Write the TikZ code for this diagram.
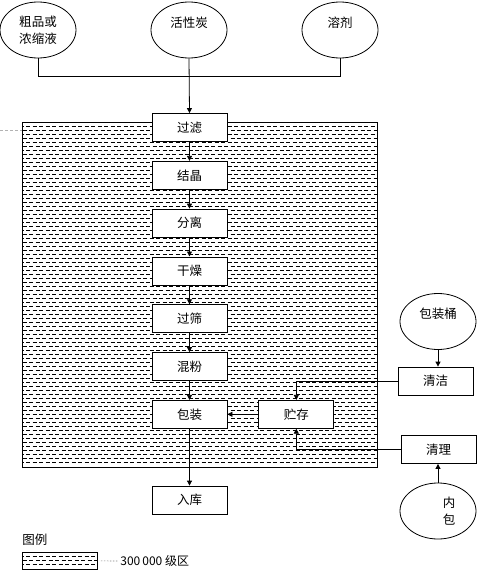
\documentclass[tikz,border=0pt]{standalone}
\usepackage{fontspec}
\setmainfont{Noto Sans CJK SC}
\usetikzlibrary{arrows.meta,positioning,shapes}

\begin{document}
\begin{tikzpicture}[x=1pt,y=-1pt,node distance=19pt,line width=0.8pt,
    stepbox/.style={draw, rectangle, fill=white, minimum width=75pt, minimum height=28pt, font=\fontsize{12.5}{14}\selectfont},
    source/.style={draw, ellipse, fill=white, minimum width=76pt, minimum height=56pt, inner sep=0pt},
    srctext/.style={font=\fontsize{12.5}{17}\selectfont, align=center},
    flow/.style={-{Triangle[length=5pt,width=5pt]}},
    hatch/.style={line width=0.9pt, dash pattern=on 4pt off 2.5pt}]
    \useasboundingbox (0,0) rectangle (487,575);

    % 300 000 zone
    \draw[line width=0.8pt] (22,122) rectangle (377,467);
    \foreach \y [count=\i] in {126,130,...,464}{
        \pgfmathsetmacro{\phase}{mod(\i,2)*3}
        \draw[hatch, dash phase=\phase pt] (22.5,\y) -- (376.5,\y);
    }
    \draw[gray!60, line width=0.5pt, densely dashed] (0,130) -- (22,130);

    % Raw materials
    \node[source] (crude) at (38,30) {};
    \node[srctext] (crudetext) at (crude.center) {粗品或\\浓缩液};
    \node[source] (carbon) at (189,30) {};
    \node[srctext] (carbontext) at ([yshift=7pt]carbon.center) {活性炭};
    \node[source] (solvent) at (340,30) {};
    \node[srctext] (solventtext) at ([yshift=7pt]solvent.center) {溶剂};
    \coordinate (merge) at (189,76);

    % Main process
    \node[stepbox] (filter) at (189.5,127.5) {过滤};
    \node[stepbox, below=of filter] (cryst) {结晶};
    \node[stepbox, below=of cryst] (separate) {分离};
    \node[stepbox, below=of separate] (dry) {干燥};
    \node[stepbox, below=of dry] (sieve) {过筛};
    \node[stepbox, below=of sieve] (mix) {混粉};
    \node[stepbox, below=of mix] (pack) {包装};
    \node[stepbox, right=31pt of pack] (store) {贮存};
    \node[stepbox] (warehouse) at (189.5,500) {入库};

    % Packaging drums
    \node[source] (drum) at (438,321.5) {};
    \node[srctext] (drumtext) at ([yshift=8pt]drum.center) {包装桶};
    \node[stepbox] (clean) at (435.5,381) {清洁};
    \node[stepbox] (tidy) at (438.5,449.5) {清理};
    \node[source] (inner) at (438,511) {};
    \node[srctext] (innertext) at ([xshift=11pt]inner.center) {内\\包};

    % Arrows
    \draw (crude.south) |- (merge);
    \draw (solvent.south) |- (merge);
    \draw[flow] (carbon.south) -- (filter.north);
    \draw[flow] (filter) -- (cryst);
    \draw[flow] (cryst) -- (separate);
    \draw[flow] (separate) -- (dry);
    \draw[flow] (dry) -- (sieve);
    \draw[flow] (sieve) -- (mix);
    \draw[flow] (mix) -- (pack);
    \draw[flow] (pack) -- (warehouse);
    \draw[flow] (store) -- (pack);
    \draw[flow] (drum.south) -- (drum.south |- clean.north);
    \draw[flow] (clean.west) -| (store.north);
    \draw[flow] (inner.north) -- (inner.north |- tidy.south);
    \draw[flow] (tidy.west) -| (store.south);

    % Legend
    \node[anchor=west, font=\fontsize{12.5}{14}\selectfont, inner sep=0pt] (legendtitle) at (22,540) {图例};
    \node[draw, rectangle, minimum width=75pt, minimum height=17pt, inner sep=0pt, anchor=north west] (legendbox) at (22,552) {};
    \foreach \y [count=\i] in {556,560,564}{
        \pgfmathsetmacro{\phase}{mod(\i,2)*3}
        \draw[hatch, dash phase=\phase pt] (22.5,\y) -- (96.5,\y);
    }
    \node[anchor=west, font=\fontsize{12}{14}\selectfont, inner sep=0pt] (legendtext) at (120,561) {300\,000 级区};
    \draw[gray, line width=0.6pt, dash pattern=on 1.5pt off 1.5pt] ([xshift=3pt]legendbox.east) -- ([xshift=-2pt]legendtext.west);
\end{tikzpicture}
\end{document}
